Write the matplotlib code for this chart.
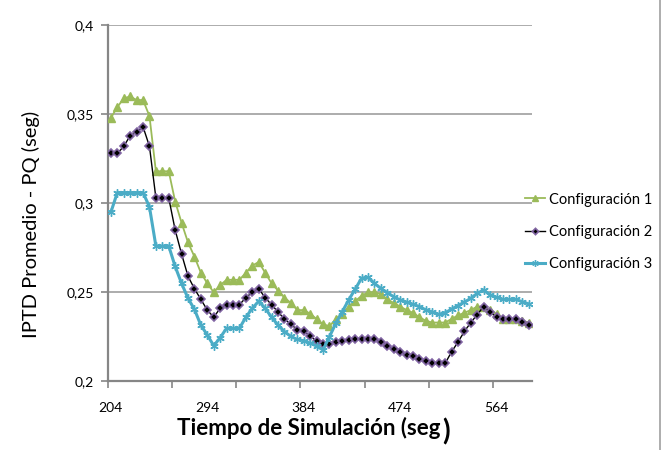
import numpy as np
import matplotlib
matplotlib.use("Agg")
from matplotlib import pyplot as plt

plt.rcParams['font.family'] = ['Lato', 'DejaVu Sans']

# simulation time, one sample every 6 s
tiempo = list(range(204, 595, 6))

config1 = [0.348, 0.354, 0.359, 0.360, 0.358, 0.358, 0.349, 0.318, 0.318, 0.318,
           0.301, 0.289, 0.278, 0.270, 0.261, 0.255, 0.250, 0.254, 0.257, 0.257,
           0.257, 0.261, 0.265, 0.267, 0.261, 0.255, 0.251, 0.247, 0.244, 0.240,
           0.240, 0.238, 0.235, 0.232, 0.231, 0.235, 0.238, 0.242, 0.245, 0.248,
           0.250, 0.250, 0.249, 0.246, 0.244, 0.242, 0.240, 0.2385, 0.236, 0.234,
           0.233, 0.233, 0.233, 0.235, 0.237, 0.2385, 0.240, 0.242, 0.242, 0.240,
           0.238, 0.235, 0.235, 0.235, 0.234, 0.233]

config2 = [0.328, 0.328, 0.332, 0.338, 0.340, 0.343, 0.332, 0.303, 0.303, 0.303,
           0.285, 0.2715, 0.259, 0.252, 0.246, 0.240, 0.236, 0.241, 0.243, 0.243,
           0.243, 0.247, 0.250, 0.252, 0.247, 0.243, 0.239, 0.235, 0.232, 0.229,
           0.228, 0.2255, 0.2225, 0.221, 0.221, 0.222, 0.2225, 0.223, 0.2235, 0.224,
           0.224, 0.2235, 0.222, 0.220, 0.218, 0.2165, 0.215, 0.214, 0.2125, 0.2115,
           0.210, 0.210, 0.210, 0.2165, 0.222, 0.228, 0.233, 0.2375, 0.242, 0.239,
           0.236, 0.235, 0.235, 0.235, 0.2335, 0.2315]

config3 = [0.295, 0.306, 0.306, 0.306, 0.306, 0.306, 0.298, 0.276, 0.276, 0.276,
           0.2645, 0.255, 0.2466, 0.2404, 0.2315, 0.226, 0.220, 0.2245, 0.2298, 0.2298,
           0.2298, 0.236, 0.241, 0.245, 0.241, 0.236, 0.2316, 0.2279, 0.2252, 0.2235,
           0.2228, 0.2215, 0.2198, 0.2176, 0.225, 0.2326, 0.2391, 0.2457, 0.2517, 0.2579,
           0.2584, 0.255, 0.2522, 0.2498, 0.2475, 0.2457, 0.2445, 0.2432, 0.242, 0.2401,
           0.239, 0.2376, 0.2385, 0.2405, 0.2425, 0.2445, 0.2466, 0.2494, 0.2513, 0.2485,
           0.2472, 0.246, 0.246, 0.246, 0.2447, 0.2435]

etiquetas = ["Configuración 1", "Configuración 2", "Configuración 3"]
yticks = [0.2, 0.25, 0.3, 0.35, 0.4]
ylabels = ["0,2", "0,25", "0,3", "0,35", "0,4"]

x = np.arange(len(tiempo))

fig = plt.figure(figsize=(6.68, 4.5), dpi=100)
ax = fig.add_axes([0.1612, 0.1527, 0.635, 0.7911])

ax.plot(x, config1, color='#9BBB59', lw=1.3, marker='^', ms=5.5,
        mfc='#9BBB59', mec='#9BBB59', label=etiquetas[0], zorder=3)
ax.plot(x, config2, color='black', lw=1.0, marker='D', ms=4,
        mfc='black', mec='#8064A2', mew=1.2, label=etiquetas[1], zorder=4)
ax.plot(x, config3, color='#4BACC6', lw=2.2, marker=(6, 2, 0), ms=6,
        mfc='#4BACC6', mec='#4BACC6', mew=1.0, label=etiquetas[2], zorder=5)

ax.set_xlim(-0.5, len(tiempo) - 0.5)
ax.set_ylim(0.2, 0.4)

# category axis: tick marks between categories, labels every 15 samples
ax.set_xticks(np.arange(-0.5, len(tiempo) - 1, 10))
ax.set_xticklabels([])
ax.set_xticks(np.arange(0, len(tiempo), 15), minor=True)
ax.set_xticklabels([str(tiempo[i]) for i in range(0, len(tiempo), 15)], minor=True)
ax.tick_params(axis='x', which='major', direction='out', length=5, width=1.2, color='#868686')
ax.tick_params(axis='x', which='minor', length=0, pad=15, labelsize=10)

ax.set_yticks(yticks)
ax.set_yticklabels(ylabels)
ax.tick_params(axis='y', direction='out', length=5, width=1.2, color='#868686', pad=5, labelsize=10)

for y in yticks[1:]:
    ax.axhline(y, color='#A6A6A6', lw=1.3, zorder=1)

for s in ['top', 'right']:
    ax.spines[s].set_visible(False)
for s in ['left', 'bottom']:
    ax.spines[s].set_color('#868686')
    ax.spines[s].set_linewidth(1.6)

ax.set_ylabel('IPTD Promedio - PQ (seg)', fontsize=14.5)
ax.yaxis.set_label_coords(-0.16, 0.44)
xl = fig.text(0.462, 0.033, 'Tiempo de Simulación (seg', fontsize=16, fontweight='bold',
              ha='center', va='baseline')
ax.annotate(')', xy=(1, 0), xycoords=xl, xytext=(1, -1), textcoords='offset points',
            fontsize=20, fontweight='bold', ha='left', va='baseline')

ax.legend(loc='center left', bbox_to_anchor=(0.766, 0.485), bbox_transform=fig.transFigure,
          frameon=False, fontsize=10.5, handlelength=1.4, handletextpad=0.25, labelspacing=1.25,
          markerscale=0.8)

fig.add_artist(plt.Line2D([0.988, 0.988], [0, 1], color='#A0A0A0', lw=1.2))

fig.savefig('out.png', dpi=100)
